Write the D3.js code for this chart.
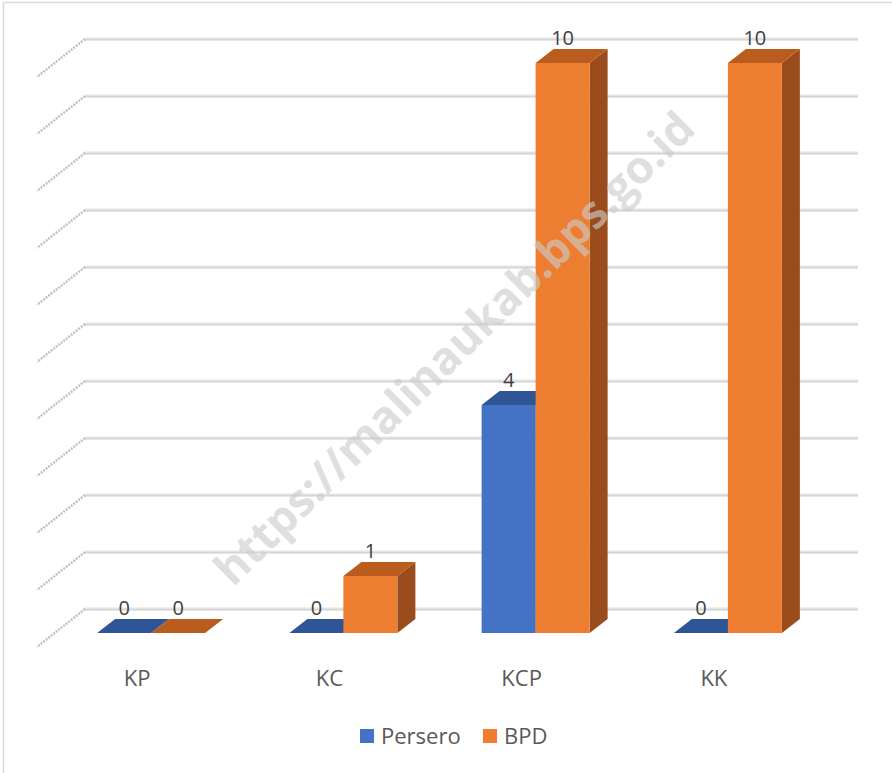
<!DOCTYPE html>
<html>
<head>
<meta charset="utf-8">
<script src="https://cdn.jsdelivr.net/npm/d3@7"></script>
<style>
  html, body { margin: 0; padding: 0; background: #fff; }
  svg { display: block; font-family: "Open Sans", "Segoe UI", sans-serif; }
</style>
</head>
<body>
<svg id="chart" width="892" height="773"></svg>
<script>
// Office counts by type
const categories = ["KP", "KC", "KCP", "KK"];
const seriesNames = ["Persero", "BPD"];
const persero = [0, 0, 4, 0];
const bpd = [0, 1, 10, 10];
const gridTicks = [0, 1, 2, 3, 4, 5, 6, 7, 8, 9, 10];

const seriesValues = { Persero: persero, BPD: bpd };
const palette = {
  Persero: { front: "#4472C4", top: "#2F5597", side: "#264478" },
  BPD:     { front: "#ED7D31", top: "#B95C1E", side: "#9A4C1C" }
};

const svg = d3.select("#chart");

// front plane of the bars
const y = d3.scaleLinear().domain([0, 10]).range([633, 63]);
const x0 = d3.scaleBand().domain(categories).range([55, 824]);
const barW = 54;
const x1 = d3.scaleBand().domain(seriesNames).range([-barW, barW]);
// 3D depth offset
const dx = 18, dy = -14;
// back wall sits behind the bars
const wallShift = -24;
const wallLeft = 85, wallRight = 858;
const sideDx = -48, sideDy = 38;

// outer frame
svg.append("path")
  .attr("d", "M3.5,773 L3.5,2.5 L892,2.5")
  .attr("fill", "none").attr("stroke", "#d9d9d9").attr("stroke-width", 1.5);

// gridlines: back wall and left side wall
const grid = svg.append("g");
gridTicks.forEach(t => {
  const yb = y(t) + wallShift;
  grid.append("line")
    .attr("x1", wallLeft).attr("x2", wallRight).attr("y1", yb).attr("y2", yb)
    .attr("stroke", "#e4e4e4").attr("stroke-width", 3);
  grid.append("line")
    .attr("x1", wallLeft).attr("x2", wallRight).attr("y1", yb + 0.8).attr("y2", yb + 0.8)
    .attr("stroke", "#cfcfcf").attr("stroke-width", 1);
  grid.append("line")
    .attr("x1", wallLeft).attr("y1", yb)
    .attr("x2", wallLeft + sideDx).attr("y2", yb + sideDy)
    .attr("stroke", "#c2c2c2").attr("stroke-width", 2.5)
    .attr("stroke-dasharray", "2 1.2");
});

// bars
const bars = svg.append("g");
categories.forEach((c, i) => {
  seriesNames.forEach(s => {
    const v = seriesValues[s][i];
    const xl = x0(c) + x0.bandwidth() / 2 + x1(s);
    const xr = xl + barW;
    const yt = y(v), yb = y(0);
    const col = palette[s];
    const g = bars.append("g");
    if (v > 0) {
      g.append("polygon")
        .attr("points", [[xr, yt], [xr + dx, yt + dy], [xr + dx, yb + dy], [xr, yb]].join(" "))
        .attr("fill", col.side);
    }
    g.append("polygon")
      .attr("points", [[xl, yt], [xr, yt], [xr + dx, yt + dy], [xl + dx, yt + dy]].join(" "))
      .attr("fill", col.top);
    if (v > 0) {
      g.append("rect")
        .attr("x", xl).attr("y", yt).attr("width", barW).attr("height", yb - yt)
        .attr("fill", col.front);
    }
    // value label
    svg.append("text")
      .attr("x", xl + barW / 2).attr("y", yt - 18)
      .attr("text-anchor", "middle")
      .attr("font-size", 20).attr("fill", "#404040")
      .text(v);
  });
});

// category labels
svg.append("g").selectAll("text").data(categories).join("text")
  .attr("x", c => x0(c) + x0.bandwidth() / 2 - 14)
  .attr("y", 686)
  .attr("text-anchor", "middle")
  .attr("font-size", 22).attr("fill", "#595959")
  .text(c => c);

// legend
const legend = svg.append("g");
const legendItems = [{ name: "Persero", x: 360 }, { name: "BPD", x: 483 }];
legendItems.forEach(d => {
  legend.append("rect")
    .attr("x", d.x).attr("y", 729).attr("width", 14).attr("height", 14)
    .attr("fill", palette[d.name].front);
  legend.append("text")
    .attr("x", d.x + 21).attr("y", 744)
    .attr("font-size", 22).attr("fill", "#595959")
    .text(d.name);
});

// site watermark
svg.append("text")
  .attr("transform", "translate(453,347) rotate(-44.5)")
  .attr("text-anchor", "middle").attr("dominant-baseline", "central")
  .attr("font-size", 45).attr("font-weight", "bold")
  .attr("fill", "#cccccc").attr("fill-opacity", 0.65)
  .text("https://malinaukab.bps.go.id");
</script>
</body>
</html>
